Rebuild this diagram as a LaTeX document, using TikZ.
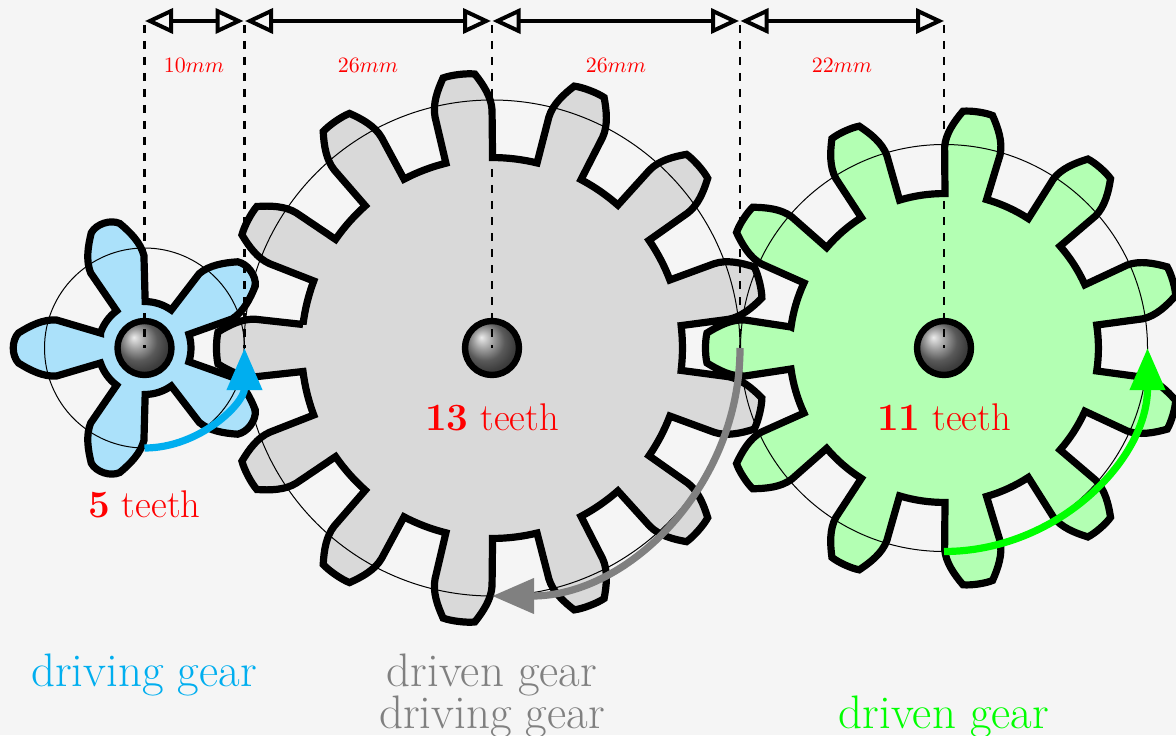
\documentclass[tikz,border=0pt]{standalone}
\usetikzlibrary{arrows.meta}
\definecolor{pagebg}{HTML}{F5F5F5}
\definecolor{procyan}{HTML}{00AEEF}
\definecolor{blfill}{HTML}{ABE1FA}
\definecolor{grfill}{HTML}{D9D9D9}
\definecolor{gnfill}{HTML}{B3FFB3}
\definecolor{midgray}{HTML}{808080}
\newcommand\drawgear[8]{%
  % cx cy N fill ur vr us vs ; ut vt tb from macros
  \begingroup
  \pgfmathsetmacro\da{atan(#6/#5)}%
  \pgfmathsetmacro\rr{veclen(#5,#6)}%
  \pgfmathsetmacro\per{360/#3}%
  \pgfmathsetmacro\ut{\gearUT}%
  \pgfmathsetmacro\vt{\gearVT}%
  \pgfmathsetmacro\cau{#7+0.35*(\ut-#7)}%
  \pgfmathsetmacro\cav{#8+1}%
  \pgfmathsetmacro\cbu{\ut-0.30*(\ut-#7)}%
  \pgfmathsetmacro\cbv{\vt+0.55*(#8-\vt)}%
  \pgfmathsetmacro\tu{\ut+\gearTB}%
  \pgfmathsetmacro\tv{\vt*0.5}%
  \draw[gearline,fill=#4] ([shift={(#1,#2)},rotate=180]#5,-#6)
   \foreach \k [evaluate=\k as \a using 180+(\k-1)*\per] in {1,...,#3} {
     -- ([shift={(#1,#2)},rotate=\a]#7,-#8)
     .. controls ([shift={(#1,#2)},rotate=\a]\cau,-\cav) and ([shift={(#1,#2)},rotate=\a]\cbu,-\cbv) .. ([shift={(#1,#2)},rotate=\a]\ut,-\vt)
     .. controls ([shift={(#1,#2)},rotate=\a]\tu,-\tv) and ([shift={(#1,#2)},rotate=\a]\tu,\tv) .. ([shift={(#1,#2)},rotate=\a]\ut,\vt)
     .. controls ([shift={(#1,#2)},rotate=\a]\cbu,\cbv) and ([shift={(#1,#2)},rotate=\a]\cau,\cav) .. ([shift={(#1,#2)},rotate=\a]#7,#8)
     -- ([shift={(#1,#2)},rotate=\a]#5,#6)
     arc[start angle={\a+\da},end angle={\a+\per-\da},radius=\rr]
   } -- cycle;
  \endgroup}
\tikzset{
  gearline/.style={line width=3.6pt,draw=black,miter limit=10},
  pitch/.style={line width=0.5pt,draw=black},
  hub/.style={circle,minimum size=27pt,inner sep=0pt,line width=3.2pt,draw=black,ball color=gray},
  dimguide/.style={line width=1.1pt,dash pattern=on 4pt off 4pt},
  dimarrow/.style={line width=2pt,{Triangle[open,length=14pt,width=12.5pt]}-{Triangle[open,length=14pt,width=12.5pt]}},
  turn/.style={line width=3.6pt,-{Triangle[length=21pt,width=17pt]}},
  dimlabel/.style={text=red,font=\fontsize{11.2}{13}\selectfont,inner sep=0pt},
  teethlabel/.style={text=red,font=\fontsize{19.3}{23}\selectfont,inner sep=0pt,anchor=base},
  rolelabel/.style={font=\fontsize{23.5}{28}\selectfont,inner sep=0pt,anchor=base},
}
\begin{document}
\begin{tikzpicture}[x=0.5pt,y=0.5pt]
\path[use as bounding box,fill=pagebg] (0,0) rectangle (1176,735);
% centres
\coordinate (cs) at (144.5,387);
\coordinate (cm) at (492,387);
\coordinate (cr) at (944,387);
% gears
\def\gearUT{274}\def\gearVT{16}\def\gearTB{2}
\drawgear{492}{387}{13}{grfill}{189}{23.5}{236}{28.7}
\def\gearUT{237}\def\gearVT{15}\def\gearTB{2}
\drawgear{944}{387}{11}{gnfill}{153}{21}{199}{28}
\def\gearUT{126}\def\gearVT{15}\def\gearTB{7}
\drawgear{144.5}{387}{5}{blfill}{44}{15}{88}{28}
% pitch circles
\draw[pitch] (cs) circle[radius=100];
\draw[pitch] (cm) circle[radius=248];
\draw[pitch] (cr) circle[radius=203.5];
% hubs
\node[hub] (hs) at (cs) {};
\node[hub] (hm) at (cm) {};
\node[hub] (hr) at (cr) {};
% guides
\coordinate (t0) at (144.5,710);
\coordinate (t1) at (244.5,710);
\coordinate (t2) at (492,710);
\coordinate (t3) at (740,710);
\coordinate (t4) at (944,710);
\coordinate (b1) at (244.5,387);
\coordinate (b3) at (740,387);
\draw[dimguide] (t0) -- (cs);
\draw[dimguide] (t1) -- (b1);
\draw[dimguide] (t2) -- (cm);
\draw[dimguide] (t3) -- (b3);
\draw[dimguide] (t4) -- (cr);
% dimension arrows
\coordinate (d0) at (145,714);
\coordinate (d1a) at (243.5,714);
\coordinate (d1b) at (245,714);
\coordinate (d2a) at (491,714);
\coordinate (d2b) at (492.5,714);
\coordinate (d3a) at (739,714);
\coordinate (d3b) at (740.5,714);
\coordinate (d4) at (944,714);
\draw[dimarrow] (d0) -- (d1a);
\draw[dimarrow] (d1b) -- (d2a);
\draw[dimarrow] (d2b) -- (d3a);
\draw[dimarrow] (d3b) -- (d4);
\node[dimlabel] (l10) at (194,670) {$10mm$};
\node[dimlabel] (l26a) at (368,670) {$26mm$};
\node[dimlabel] (l26b) at (616,670) {$26mm$};
\node[dimlabel] (l22) at (842,670) {$22mm$};
% rotation arrows
\draw[turn,draw=procyan] (144.5,287) arc[start angle=-90,end angle=0,radius=100];
\draw[turn,draw=midgray] (740,387) arc[start angle=0,end angle=-90,radius=248];
\draw[turn,draw=green] (944,183.5) arc[start angle=-90,end angle=0,radius=203.5];
% labels
\node[teethlabel] (ts) at (144.5,218) {\textbf{5} teeth};
\node[teethlabel] (tm) at (492,305) {\textbf{13} teeth};
\node[teethlabel] (tr) at (944,305) {\textbf{11} teeth};
\node[rolelabel,text=procyan] (r1) at (144,49) {driving gear};
\node[rolelabel,text=midgray] (r2) at (492,49) {driven gear};
\node[rolelabel,text=midgray] (r3) at (492,7) {driving gear};
\node[rolelabel,text=green] (r4) at (944,7) {driven gear};
\end{tikzpicture}
\end{document}
